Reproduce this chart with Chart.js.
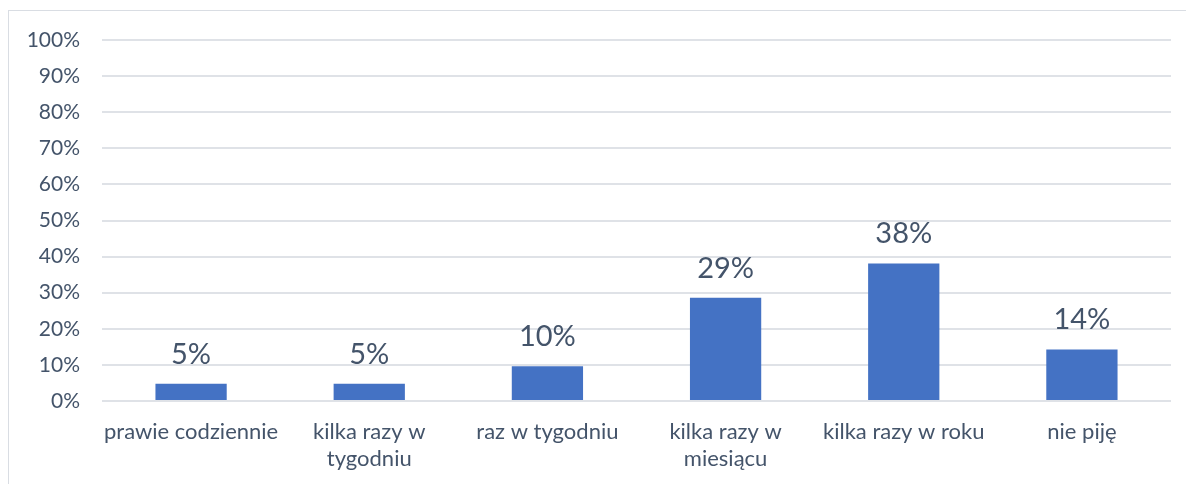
<!DOCTYPE html>
<html>
<head>
<meta charset="utf-8">
<script src="https://cdn.jsdelivr.net/npm/chart.js@4"></script>
<style>
  html, body { margin: 0; padding: 0; background: #fff; }
  #wrap { width: 1186px; height: 484px; position: relative; }
</style>
</head>
<body>
<div id="wrap"><canvas id="chart"></canvas></div>
<script>
const categories = [
    'prawie codziennie',
    ['kilka razy w', 'tygodniu'],
    'raz w tygodniu',
    ['kilka razy w', 'miesiącu'],
    'kilka razy w roku',
    'nie piję'
];
const shares = [4.8, 4.8, 9.6, 28.6, 38.1, 14.3];
const yTicks = [0, 10, 20, 30, 40, 50, 60, 70, 80, 90, 100];

const textColor = '#44546A';
const gridColor = '#dfe2e7';
const fontFamily = 'Lato, "Open Sans", sans-serif';

// labels above each bar, rounded like the source
const barValueLabels = {
    id: 'barValueLabels',
    afterDatasetsDraw: (chart) => {
        const { ctx } = chart;
        const meta = chart.getDatasetMeta(0);
        ctx.save();
        ctx.font = `29px ${fontFamily}`;
        ctx.fillStyle = textColor;
        ctx.textAlign = 'center';
        ctx.textBaseline = 'alphabetic';
        meta.data.forEach((bar, i) => {
            ctx.fillText(`${Math.round(shares[i])}%`, bar.x, bar.y - 20);
        });
        ctx.restore();
    }
};

// thin frame round the whole chart
const chartFrame = {
    id: 'chartFrame',
    beforeDraw: (chart) => {
        const { ctx } = chart;
        ctx.save();
        ctx.strokeStyle = '#d9dde3';
        ctx.lineWidth = 1;
        ctx.strokeRect(8.5, 10.5, chart.width, chart.height);
        ctx.restore();
    }
};

new Chart(document.getElementById('chart'), {
    type: 'bar',
    data: {
        labels: categories,
        datasets: [{
            data: shares,
            backgroundColor: '#4472C4',
            categoryPercentage: 1,
            barPercentage: 0.4
        }]
    },
    options: {
        responsive: true,
        maintainAspectRatio: false,
        animation: false,
        layout: { padding: { left: 8, right: 15, top: 40, bottom: 0 } },
        plugins: {
            legend: { display: false },
            tooltip: { enabled: false }
        },
        scales: {
            x: {
                grid: { display: false, drawTicks: false },
                border: { display: false },
                ticks: {
                    color: textColor,
                    font: { family: fontFamily, size: 22 },
                    padding: 18,
                    maxRotation: 0,
                    autoSkip: false
                },
                afterFit: (scale) => { scale.height = 83; }
            },
            y: {
                min: 0,
                max: 100,
                afterBuildTicks: (scale) => {
                    scale.ticks = yTicks.map((value) => ({ value }));
                },
                grid: { color: gridColor, lineWidth: 2, drawTicks: false },
                border: { display: false },
                ticks: {
                    color: textColor,
                    font: { family: fontFamily, size: 21 },
                    padding: 22,
                    callback: (value) => `${value}%`
                },
                afterFit: (scale) => { scale.width = 94; }
            }
        }
    },
    plugins: [chartFrame, barValueLabels]
});
</script>
</body>
</html>
